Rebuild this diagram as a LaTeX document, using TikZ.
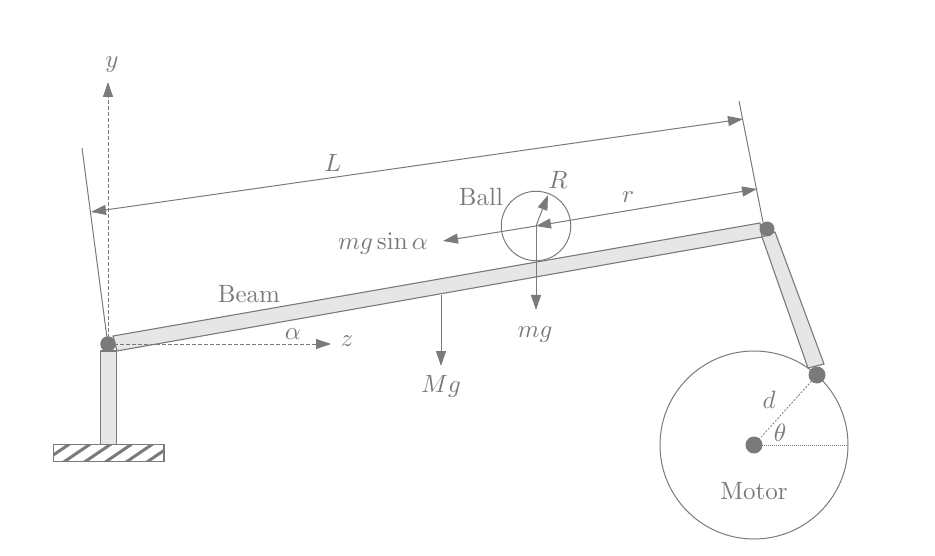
\documentclass[tikz,border=0pt]{standalone}
\usetikzlibrary{arrows.meta}
\definecolor{ink}{HTML}{7A7A7A}
\definecolor{barfill}{HTML}{E6E6E6}
\tikzset{
  thinline/.style={draw=ink,line width=1pt},
  hairdash/.style={draw=ink,line width=0.8pt,dash pattern=on 4pt off 2pt},
  arrowline/.style={thinline,-{Triangle[length=15pt,width=10pt]}},
  bothline/.style={thinline,{Triangle[length=15pt,width=10pt]}-{Triangle[length=15pt,width=10pt]}},
  bar/.style={draw=ink,line width=1.3pt,fill=barfill},
  pin/.style={circle,fill=ink,inner sep=0pt},
  lab/.style={text=ink,scale=2.5,inner sep=0pt}
}
\begin{document}
\begin{tikzpicture}[x=1pt,y=-1pt]
\useasboundingbox (0,0) rectangle (935,556);
% named points
\coordinate (pivotL) at (108,344);
\coordinate (pivotR) at (767,229);
\coordinate (crank) at (817,375);
\coordinate (motorC) at (754,445);
\coordinate (ballC) at (536,226);
\coordinate (yTip) at (108,82);
\coordinate (zTip) at (331,344);
\coordinate (tickL1) at (82,148);
\coordinate (tickL2) at (107,338);
\coordinate (tickR1) at (739,101);
\coordinate (tickR2) at (763,222);
\coordinate (dimLa) at (91,212);
\coordinate (dimLb) at (743,119);
\coordinate (dimR) at (757,189);
\coordinate (sinTip) at (443,241);
\coordinate (rTip) at (548,195);
\coordinate (mgTip) at (536,310);
\coordinate (bigA) at (441,295);
\coordinate (bigB) at (441,366);
\coordinate (thetaEnd) at (848,445);
% post and base
\draw[bar] (100.7,351) rectangle (116.7,444.5);
\begin{scope}
\clip (53.5,444.5) rectangle (164,461.7);
\foreach \s in {41.5,62.3,83.1,103.9,124.7,145.5,166.3}
  \draw[draw=ink,line width=3pt] (\s,463) -- (\s+28,444);
\end{scope}
\draw[draw=ink,line width=1.5pt] (53.5,444.5) rectangle (164,461.7);
% motor
\node[circle,thinline,minimum size=188pt,inner sep=0pt] (motor) at (motorC) {};
% beam and link
\draw[bar,line width=1.1pt] (113,336) -- (760,223) -- (762,237) -- (117,351) -- cycle;
\draw[bar,line width=1.1pt] (762,237) -- (775,232) -- (824,364) -- (808,368) -- cycle;
% ball
\node[circle,thinline,minimum size=69.5pt,inner sep=0pt] (ball) at (ballC) {};
% ticks
\draw[thinline] (tickL1) -- (tickL2);
\draw[thinline] (tickR1) -- (tickR2);
% axes
\draw[hairdash,-{Triangle[length=15pt,width=10pt]}] (pivotL) -- (yTip);
\draw[hairdash,-{Triangle[length=15pt,width=10pt]}] (pivotL) -- (zTip);
% dimensions and forces
\draw[bothline] (dimLa) -- (dimLb);
\draw[bothline] (ballC) -- (dimR);
\draw[arrowline] (ballC) -- (sinTip);
\draw[arrowline] (ballC) -- (rTip);
\draw[arrowline] (ballC) -- (mgTip);
\draw[arrowline] (bigA) -- (bigB);
% motor lines
\draw[draw=ink,line width=0.8pt,dash pattern=on 2pt off 1.5pt] (motorC) -- (crank);
\draw[draw=ink,line width=0.8pt,dash pattern=on 1pt off 1pt] (motorC) -- (thetaEnd);
% pins
\node[pin,minimum size=15.5pt] (pinL) at (pivotL) {};
\node[pin,minimum size=15pt] (pinR) at (pivotR) {};
\node[pin,minimum size=17pt] (pinC) at (crank) {};
\node[pin,minimum size=17pt] (pinM) at (motorC) {};
% labels
\node[lab] (ly) at (112,65) {$y$};
\node[lab] (lz) at (347,341) {$z$};
\node[lab] (la) at (293,334) {$\alpha$};
\node[lab] (lL) at (333,163) {$L$};
\node[lab] (lr) at (628,197) {$r$};
\node[lab] (lR) at (558,180) {$R$};
\node[lab] (lBall) at (481,197) {Ball};
\node[lab] (lBeam) at (249,294) {Beam};
\node[lab] (lmgs) at (383,244) {$mg\sin\alpha$};
\node[lab] (lmg) at (535,335) {$mg$};
\node[lab] (lMg) at (441,386) {$Mg$};
\node[lab] (ld) at (769,400) {$d$};
\node[lab] (lt) at (780,433) {$\theta$};
\node[lab] (lMotor) at (754,491) {Motor};
\end{tikzpicture}
\end{document}
